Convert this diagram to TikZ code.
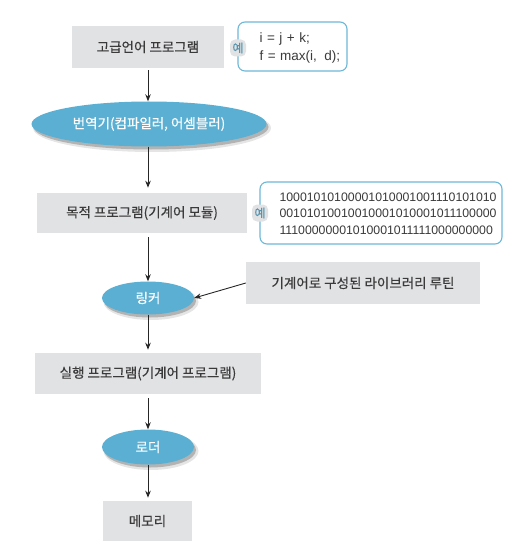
\documentclass[tikz,border=0pt]{standalone}
\usepackage{fontspec}
\setmainfont{Liberation Sans}
\newfontfamily\kr[FakeBold=0.4]{Noto Sans CJK KR}
\usetikzlibrary{arrows.meta,shapes.geometric}
\definecolor{boxgray}{HTML}{E1E2E4}
\definecolor{ellblue}{HTML}{5AAFD2}
\definecolor{exblue}{HTML}{6CB8D8}
\definecolor{txtgray}{HTML}{3A3A3A}
\tikzset{
  graybox/.style={fill=boxgray,draw=none,inner sep=0pt,font=\kr\fontsize{13.5}{15}\selectfont,text=txtgray},
  ellnode/.style={ellipse,fill=ellblue,draw=none,inner sep=0pt,font=\kr\fontsize{13.5}{15}\selectfont,text=white},
  exbox/.style={draw=exblue,line width=1.1pt,rounded corners=7pt,fill=white,inner sep=0pt},
  yetag/.style={fill=boxgray,rounded corners=5pt,inner sep=0pt,minimum width=16pt,minimum height=17pt,font=\kr\fontsize{12}{12}\selectfont,text=exblue!80!black},
  arr/.style={-{Stealth[length=7pt,width=5.5pt]},line width=0.9pt,black!85},
}
\begin{document}
\begin{tikzpicture}[x=1pt,y=-1pt]
\useasboundingbox (0,0) rectangle (512,559);
% shadows
\foreach \cx/\cy/\w/\h in {149/124/235/45, 148/298/92/33, 148/447/92/35}{
  \fill[black,opacity=0.10] (\cx+3,\cy+4) ellipse [x radius=\w/2+1.5,y radius=\h/2+1.5];
  \fill[black,opacity=0.22] (\cx+2,\cy+3) ellipse [x radius=\w/2,y radius=\h/2];
}
% main column
\node[graybox,minimum width=152pt,minimum height=42pt] (hl) at (148,47) {고급언어 프로그램};
\node[ellnode,minimum width=235pt,minimum height=45pt] (tr) at (149,124) {번역기(컴파일러, 어셈블러)};
\node[graybox,minimum width=210pt,minimum height=40pt] (obj) at (142,213) {목적 프로그램(기계어 모듈)};
\node[ellnode,minimum width=92pt,minimum height=33pt] (lk) at (148,298) {링커};
\node[graybox,minimum width=234pt,minimum height=42pt] (lib) at (363,283) {기계어로 구성된 라이브러리 루틴};
\node[graybox,minimum width=226pt,minimum height=41pt] (ex) at (148,373.5) {실행 프로그램(기계어 프로그램)};
\node[ellnode,minimum width=92pt,minimum height=35pt] (ld) at (148,447) {로더};
\node[graybox,minimum width=89pt,minimum height=40pt] (mem) at (147.5,521) {메모리};
% examples
\node[exbox,minimum width=109pt,minimum height=49pt] (ex1) at (292.5,46.5) {};
\node[anchor=west,align=left,font=\fontsize{13.5}{18}\selectfont,text=txtgray] (ex1t) at (256,48) {i\,\,=\,\,j\,\,+\,\,k;\\f\,\,=\,\,max(i,\ \ d);};
\node[yetag] (ye1) at (238,48) {예};
\node[exbox,minimum width=242pt,minimum height=62pt] (ex2) at (381,213) {};
\node[anchor=west,align=left,font=\fontsize{12.3}{16.5}\selectfont,text=txtgray] (ex2t) at (276,213.5) {10001010100001010001001110101010\\00101010010010001010001011100000\\11100000001010001011111000000000};
\node[yetag] (ye2) at (260,213) {예};
% arrows
\draw[arr] (hl.south) ++(0,2) coordinate (a1) -- (a1 |- tr.north);
\draw[arr] (tr.south -| hl.south) -- ++(0,41) coordinate (a2);
\draw[arr] (obj.south -| lk.north) ++(0,4) coordinate (a3) -- (lk.north);
\draw[arr] (lib.west) -- (lk.east);
\draw[arr] (lk.south) -- ++(0,35) coordinate (a4);
\draw[arr] (ex.south) ++(0,4) coordinate (a5) -- (ld.north);
\draw[arr] (ld.south) -- ++(0,33) coordinate (a6);
\end{tikzpicture}
\end{document}
